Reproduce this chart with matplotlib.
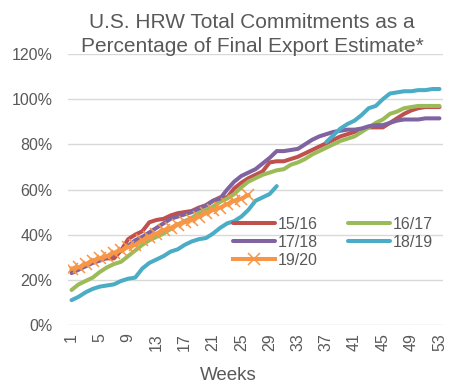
import numpy as np
import matplotlib
matplotlib.use("Agg")
import matplotlib.pyplot as plt
from matplotlib.ticker import FuncFormatter

weeks = list(range(1, 54))

s1516 = [24, 25, 26.5, 28.5, 29, 29.5, 29.5, 33, 38, 40, 41.5, 45.5, 46.5, 47, 48.5, 49.5, 50, 50.5,
         52, 53, 55, 56.5, 56.5, 60.5, 63, 65, 66.5, 68, 72, 72.5, 72.5, 73.5, 74.5, 76, 77.5, 79,
         80.5, 82, 83.5, 84.5, 85.5, 86.5, 87.5, 87.5, 87.5, 89.5, 91.5, 93.5, 95, 96, 96.5, 96.5, 96.5]
s1617 = [15.5, 18, 19.5, 21, 23.5, 25.5, 27, 28, 30.5, 33, 35.5, 37.5, 39, 40.5, 42.5, 44.5, 46, 47.5,
         49.5, 51, 52.5, 54.5, 56, 58, 61, 63.5, 65, 66.5, 67.5, 68.5, 69, 71, 72, 73.5, 75.5, 77,
         78.5, 80, 81.5, 82.5, 83.5, 85.5, 87.5, 89.5, 91, 93.5, 94.5, 96, 96.5, 97, 97, 97, 97]
s1718 = [23, 24.5, 26, 27.5, 28.5, 30, 31.5, 33, 35, 37.5, 39, 41, 43, 45, 47, 48, 49, 50,
         51.5, 53, 55, 56, 60, 63.5, 66, 67.5, 69, 71.5, 74, 77, 77, 77.5, 78, 80, 82, 83.5,
         84.5, 85.5, 86, 86.5, 86.5, 87, 88, 88.5, 88.5, 89.5, 90.5, 91, 91, 91, 91.5, 91.5, 91.5]
s1819 = [11, 12.5, 14.5, 16, 17, 17.5, 18, 19.5, 20.5, 21, 25, 27.5, 29, 30.5, 32.5, 33.5, 35.5, 37,
         38, 38.5, 40.5, 43, 45, 46, 48, 51, 55, 56.5, 58, 61.5, None, None, None, None, None, None,
         81, 84, 87, 89, 90.5, 93, 96, 97, 100, 102.5, 103, 103.5, 103.5, 104, 104, 104.5, 104.5]
s1920 = [25, 25.5, 27, 28.5, 29.5, 30.5, 32, 33, 34.5, 35.5, 37.5, 39, 40.5, 42, 43, 44.5, 45.5, 46.5,
         48, 49.5, 51, 52, 53.5, 55, 56, 57.5]

labels = ["15/16", "16/17", "17/18", "18/19", "19/20"]
colors = ["#C0504D", "#9BBB59", "#8064A2", "#4BACC6", "#F79646"]
xticks = list(range(1, 54, 4))

plt.rcParams['font.family'] = ['Liberation Sans', 'DejaVu Sans']
grey = "#595959"

fig = plt.figure(figsize=(4.68, 3.89), dpi=100)
ax = fig.add_axes([68 / 468, 1 - 325 / 389, 375 / 468, 271 / 389])

series = [s1516, s1617, s1718, s1819]
lines = []
for vals, lab, col in zip(series, labels, colors):
    y = np.array([np.nan if v is None else v for v in vals], dtype=float)
    ln, = ax.plot(weeks, y, color=col, lw=2.9, label=lab, solid_capstyle='round')
    lines.append(ln)
ln, = ax.plot(weeks[:len(s1920)], s1920, color=colors[4], lw=2.9, marker='x',
              markersize=8, markeredgewidth=1.1, label=labels[4])
lines.append(ln)

ax.set_xlim(0.5, 53.5)
ax.set_ylim(0, 120)
ax.set_yticks(range(0, 121, 20))
ax.yaxis.set_major_formatter(FuncFormatter(lambda v, p: f"{v:.0f}%"))
ax.set_xticks(xticks)
ax.set_xticklabels([str(t) for t in xticks], rotation=90)
ax.grid(axis='y', color='#D9D9D9', lw=1)
ax.set_axisbelow(True)
for sp in ax.spines.values():
    sp.set_visible(False)
ax.tick_params(axis='both', length=0, colors=grey, labelsize=11.5)
ax.tick_params(axis='y', pad=11)
ax.tick_params(axis='x', pad=6)

order = [0, 2, 4, 1, 3]
leg = ax.legend([lines[i] for i in order], [labels[i] for i in order], ncol=2,
                loc='upper left', bbox_to_anchor=(0.44, 0.40), frameon=False, numpoints=1,
                fontsize=11.5, handlelength=2.6, handletextpad=0.2, columnspacing=1.9,
                labelspacing=0.2, borderpad=0, borderaxespad=0)
for t in leg.get_texts():
    t.set_color(grey)

fig.text(252 / 468, 1 - 28 / 389, "U.S. HRW Total Commitments as a", ha='center',
         va='baseline', fontsize=15, color=grey)
fig.text(252 / 468, 1 - 52 / 389, "Percentage of Final Export Estimate*", ha='center',
         va='baseline', fontsize=15, color=grey)
fig.text(228 / 468, 1 - 380 / 389, "Weeks", ha='center', va='baseline', fontsize=13.5, color=grey)

fig.savefig("out.png", dpi=100)
